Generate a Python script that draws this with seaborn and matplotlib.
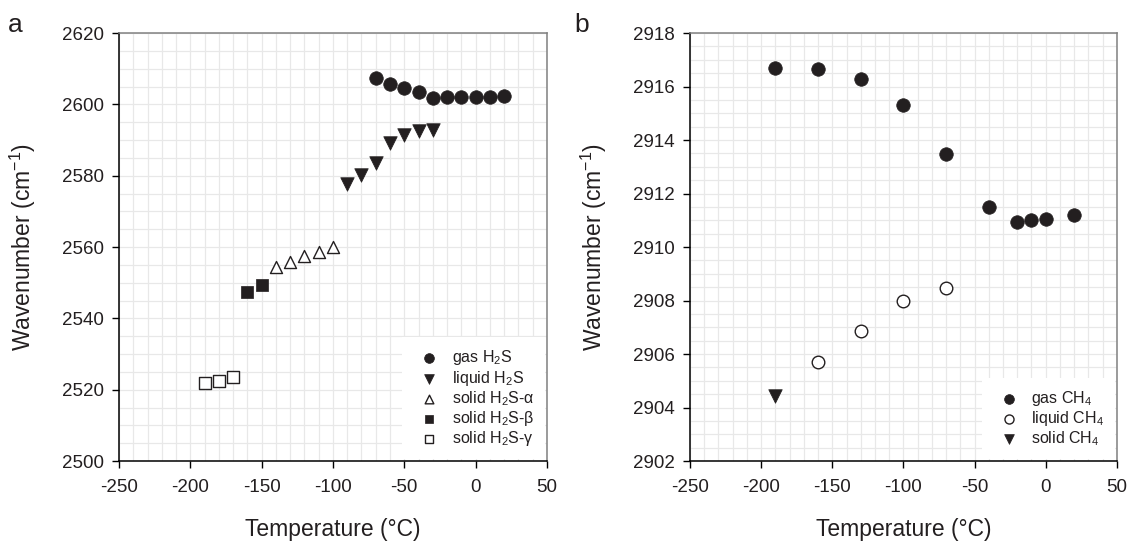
import numpy as np
import matplotlib
matplotlib.use('Agg')
import matplotlib.pyplot as plt
import seaborn as sns
from matplotlib.ticker import MultipleLocator

sns.set_style('white')
plt.rcParams['font.family'] = ['Liberation Sans', 'DejaVu Sans']
plt.rcParams['mathtext.fontset'] = 'custom'
plt.rcParams['mathtext.rm'] = 'Liberation Sans'
plt.rcParams['mathtext.it'] = 'Liberation Sans:italic'
plt.rcParams['mathtext.default'] = 'regular'
plt.rcParams['axes.unicode_minus'] = False

# 數據 (a) H2S
gas_h2s_t = [-70, -60, -50, -40, -30, -20, -10, 0, 10, 20]
gas_h2s_w = [2607.3, 2605.8, 2604.5, 2603.5, 2601.8, 2602.0, 2602.2, 2602.2, 2602.2, 2602.3]
liq_h2s_t = [-90, -80, -70, -60, -50, -40, -30]
liq_h2s_w = [2577.6, 2580.3, 2583.6, 2589.1, 2591.4, 2592.6, 2592.8]
sa_h2s_t = [-140, -130, -120, -110, -100]
sa_h2s_w = [2554.3, 2555.8, 2557.4, 2558.7, 2560.1]
sb_h2s_t = [-160, -150]
sb_h2s_w = [2547.4, 2549.4]
sg_h2s_t = [-190, -180, -170]
sg_h2s_w = [2521.8, 2522.5, 2523.5]

# 數據 (b) CH4
gas_ch4_t = [-190, -160, -130, -100, -70, -40, -20, -10, 0, 20]
gas_ch4_w = [2916.7, 2916.65, 2916.27, 2915.3, 2913.48, 2911.5, 2910.95, 2911.0, 2911.05, 2911.2]
liq_ch4_t = [-160, -130, -100, -70]
liq_ch4_w = [2905.72, 2906.85, 2908.0, 2908.48]
sol_ch4_t = [-190]
sol_ch4_w = [2904.42]

dark = '#231f20'
grid_c = '#e8e8e8'


def style_axes(ax, xmaj, xmin, ymaj, ymin, ylim):
    ax.set_xlim(-250, 50)
    ax.set_ylim(*ylim)
    ax.xaxis.set_major_locator(MultipleLocator(xmaj))
    ax.xaxis.set_minor_locator(MultipleLocator(xmin))
    ax.yaxis.set_major_locator(MultipleLocator(ymaj))
    ax.yaxis.set_minor_locator(MultipleLocator(ymin))
    ax.grid(which='both', color=grid_c, linewidth=0.9)
    ax.set_axisbelow(True)
    ax.tick_params(which='major', direction='out', length=5, width=1, colors='black',
                   labelsize=13.5, labelcolor='#231f20', bottom=True, left=True)
    ax.tick_params(axis='x', pad=8)
    ax.tick_params(axis='y', pad=6)
    ax.tick_params(which='minor', length=0)
    for s in ['left', 'bottom']:
        ax.spines[s].set_color('black')
        ax.spines[s].set_linewidth(1.1)
    for s in ['top', 'right']:
        ax.spines[s].set_color('#808080')
        ax.spines[s].set_linewidth(1.1)
    ax.set_xlabel('Temperature (°C)', fontsize=16.5, labelpad=16, color='#231f20')
    ax.set_ylabel('Wavenumber (cm$^{-1}$)', fontsize=16.5, labelpad=17, color='#231f20')


fig = plt.figure(figsize=(11.29, 5.43), dpi=100)
ax1 = fig.add_axes([0.1054, 0.151, 0.379, 0.788])
ax2 = fig.add_axes([0.6112, 0.151, 0.378, 0.788])

# 圖 a
sns.scatterplot(x=gas_h2s_t, y=gas_h2s_w, ax=ax1, marker='o', s=95, color=dark,
                edgecolor=dark, linewidth=0.5, label='gas H$_2$S', zorder=3)
sns.scatterplot(x=liq_h2s_t, y=liq_h2s_w, ax=ax1, marker='v', s=95, color=dark,
                edgecolor=dark, linewidth=0.5, label='liquid H$_2$S', zorder=3)
sns.scatterplot(x=sa_h2s_t, y=sa_h2s_w, ax=ax1, marker='^', s=75, facecolor='white',
                edgecolor=dark, linewidth=1.0, label='solid H$_2$S-α', zorder=3)
sns.scatterplot(x=sb_h2s_t, y=sb_h2s_w, ax=ax1, marker='s', s=66, color=dark,
                edgecolor=dark, linewidth=0.5, label='solid H$_2$S-β', zorder=3)
sns.scatterplot(x=sg_h2s_t, y=sg_h2s_w, ax=ax1, marker='s', s=66, facecolor='white',
                edgecolor=dark, linewidth=1.0, label='solid H$_2$S-γ', zorder=3)
style_axes(ax1, 50, 10, 20, 5, (2500, 2620))

# 圖 b
sns.scatterplot(x=gas_ch4_t, y=gas_ch4_w, ax=ax2, marker='o', s=95, color=dark,
                edgecolor=dark, linewidth=0.5, label='gas CH$_4$', zorder=3)
sns.scatterplot(x=liq_ch4_t, y=liq_ch4_w, ax=ax2, marker='o', s=82, facecolor='white',
                edgecolor=dark, linewidth=1.0, label='liquid CH$_4$', zorder=3)
sns.scatterplot(x=sol_ch4_t, y=sol_ch4_w, ax=ax2, marker='v', s=95, color=dark,
                edgecolor=dark, linewidth=0.5, label='solid CH$_4$', zorder=3)
style_axes(ax2, 50, 10, 2, 0.5, (2902, 2918))

for ax in [ax1, ax2]:
    leg = ax.legend(loc='lower right', fontsize=11.5, markerscale=0.72, frameon=True,
                    borderaxespad=0.1, handletextpad=0.4, labelspacing=0.08,
                    borderpad=0.7, fancybox=False)
    leg.get_frame().set_facecolor('white')
    leg.get_frame().set_edgecolor('none')
    leg.get_frame().set_alpha(1)
    for t in leg.get_texts():
        t.set_color('#231f20')

fig.text(0.007, 0.941, 'a', fontsize=19, color='#231f20', va='baseline')
fig.text(0.509, 0.941, 'b', fontsize=19, color='#231f20', va='baseline')

plt.savefig('out.png', dpi=100)
